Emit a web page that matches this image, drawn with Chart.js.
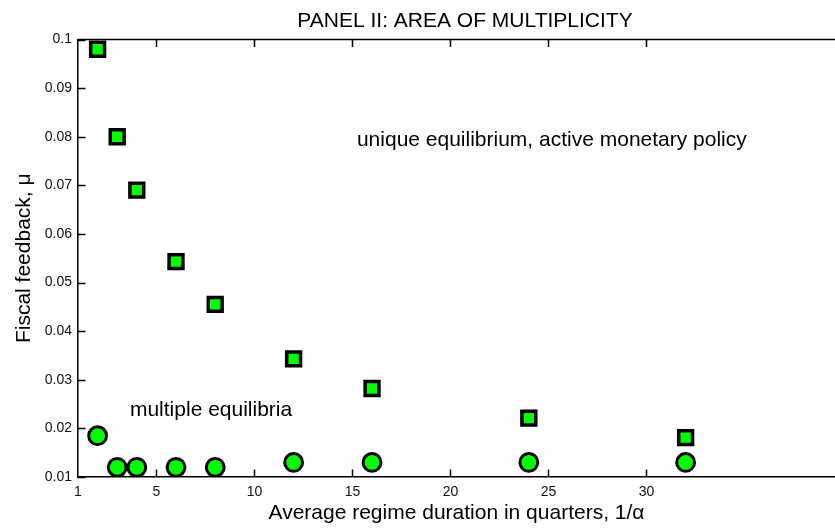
<!DOCTYPE html>
<html>
<head>
<meta charset="utf-8">
<script src="https://cdn.jsdelivr.net/npm/chart.js@4.4.0/dist/chart.umd.min.js"></script>
<style>
html, body { margin: 0; padding: 0; background: #fff; overflow: hidden; }
#wrap { position: relative; width: 835px; height: 531px; }
#scatter-chart { display: block; }
</style>
</head>
<body>
<div id="wrap"><canvas id="scatter-chart"></canvas></div>
<script>
// average regime duration 1/alpha (quarters)
var duration = [2, 3, 4, 6, 8, 12, 16, 24, 32];
// upper bound of the multiplicity area (squares)
var upperBound = [0.098, 0.080, 0.069, 0.0543, 0.0455, 0.0343, 0.0282, 0.0221, 0.0181];
// lower bound of the multiplicity area (circles)
var lowerBound = [0.0185, 0.012, 0.012, 0.012, 0.012, 0.013, 0.013, 0.013, 0.013];

var xTicks = [1, 5, 10, 15, 20, 25, 30];
var yTicks = [0.01, 0.02, 0.03, 0.04, 0.05, 0.06, 0.07, 0.08, 0.09, 0.1];
var yTickLabels = ['0.01', '0.02', '0.03', '0.04', '0.05', '0.06', '0.07', '0.08', '0.09', '0.1'];

var titleText = 'PANEL II: AREA OF MULTIPLICITY';
var regionText = ['unique equilibrium, active monetary policy', 'multiple equilibria'];
// where the region texts sit, in data units (left edge, baseline)
var regionX = [15.23, 3.65];
var regionY = [0.078, 0.0225];

var FONT = '"Liberation Sans", Arial, Helvetica, sans-serif';
Chart.defaults.font.family = FONT;
Chart.defaults.color = '#111';

function toPoints(xs, ys) {
    return xs.map(function (x, i) { return {x: x, y: ys[i]}; });
}

// frame top line, inward ticks, title and region texts
var decorations = {
    id: 'decorations',
    afterDraw: function (chart) {
        var ctx = chart.ctx;
        var area = chart.chartArea;
        var xs = chart.scales.x;
        var ys = chart.scales.y;
        var len = 7.5;
        ctx.save();
        ctx.strokeStyle = '#000';
        ctx.lineWidth = 1.5;
        ctx.beginPath();
        ctx.moveTo(area.left, area.top);
        ctx.lineTo(area.right, area.top);
        xTicks.forEach(function (v) {
            var px = Math.round(xs.getPixelForValue(v)) + 0.5;
            if (v === xTicks[0]) return;
            ctx.moveTo(px, area.bottom);
            ctx.lineTo(px, area.bottom - len);
            ctx.moveTo(px, area.top);
            ctx.lineTo(px, area.top + len);
        });
        yTicks.forEach(function (v) {
            var py = Math.round(ys.getPixelForValue(v)) + 0.5;
            ctx.moveTo(area.left, py);
            ctx.lineTo(area.left + len, py);
        });
        ctx.stroke();

        ctx.fillStyle = '#000';
        ctx.font = '21px ' + FONT;
        ctx.textAlign = 'center';
        ctx.textBaseline = 'alphabetic';
        ctx.fillText(titleText, 465, 27);

        ctx.textAlign = 'left';
        regionText.forEach(function (t, i) {
            ctx.fillText(t, xs.getPixelForValue(regionX[i]), ys.getPixelForValue(regionY[i]));
        });
        ctx.restore();
    }
};

new Chart(document.getElementById('scatter-chart'), {
    type: 'scatter',
    data: {
        datasets: [
            {
                label: 'upper bound',
                data: toPoints(duration, upperBound),
                pointStyle: 'rect',
                pointRadius: 9.8,
                pointHoverRadius: 9.8,
                borderWidth: 3.5,
                borderColor: '#000',
                backgroundColor: '#00ff00'
            },
            {
                label: 'lower bound',
                data: toPoints(duration, lowerBound),
                pointStyle: 'circle',
                pointRadius: 8.9,
                pointHoverRadius: 8.9,
                borderWidth: 3,
                borderColor: '#000',
                backgroundColor: '#00ff00'
            }
        ]
    },
    options: {
        responsive: true,
        maintainAspectRatio: false,
        animation: false,
        layout: { autoPadding: false, padding: { top: 39.5, left: 0, right: 0, bottom: 0 } },
        plugins: {
            legend: { display: false },
            tooltip: { enabled: false },
            title: { display: false }
        },
        scales: {
            x: {
                type: 'linear',
                min: 1,
                max: 39.62,
                afterBuildTicks: function (scale) {
                    scale.ticks = xTicks.map(function (v) { return {value: v}; });
                },
                afterFit: function (scale) {
                    scale.height = 54;
                    scale.paddingLeft = 0;
                    scale.paddingRight = 0;
                },
                grid: { display: true, drawOnChartArea: false, drawTicks: false, color: 'rgba(0,0,0,0)' },
                border: { display: true, color: '#000', width: 1.5 },
                ticks: {
                    autoSkip: false,
                    maxRotation: 0,
                    padding: 7,
                    color: '#111',
                    font: { size: 14 },
                    callback: function (v) { return String(v); }
                },
                title: {
                    display: true,
                    text: 'Average regime duration in quarters, 1/\u03b1',
                    color: '#000',
                    font: { size: 21 },
                    padding: { top: 0, bottom: 5.4 }
                }
            },
            y: {
                type: 'linear',
                min: 0.01,
                max: 0.1,
                afterBuildTicks: function (scale) {
                    scale.ticks = yTicks.map(function (v) { return {value: v}; });
                },
                afterFit: function (scale) {
                    scale.width = 78;
                    scale.paddingTop = 0;
                    scale.paddingBottom = 0;
                },
                grid: { display: true, drawOnChartArea: false, drawTicks: false, color: 'rgba(0,0,0,0)' },
                border: { display: true, color: '#000', width: 1.5 },
                ticks: {
                    autoSkip: false,
                    padding: 6,
                    color: '#111',
                    font: { size: 14 },
                    callback: function (v) {
                        var i = yTicks.indexOf(v);
                        return i >= 0 ? yTickLabels[i] : '';
                    }
                },
                title: {
                    display: true,
                    text: 'Fiscal feedback, \u03bc',
                    color: '#000',
                    font: { size: 21 },
                    padding: { top: 12, bottom: 0 }
                }
            }
        }
    },
    plugins: [decorations]
});
</script>
</body>
</html>
